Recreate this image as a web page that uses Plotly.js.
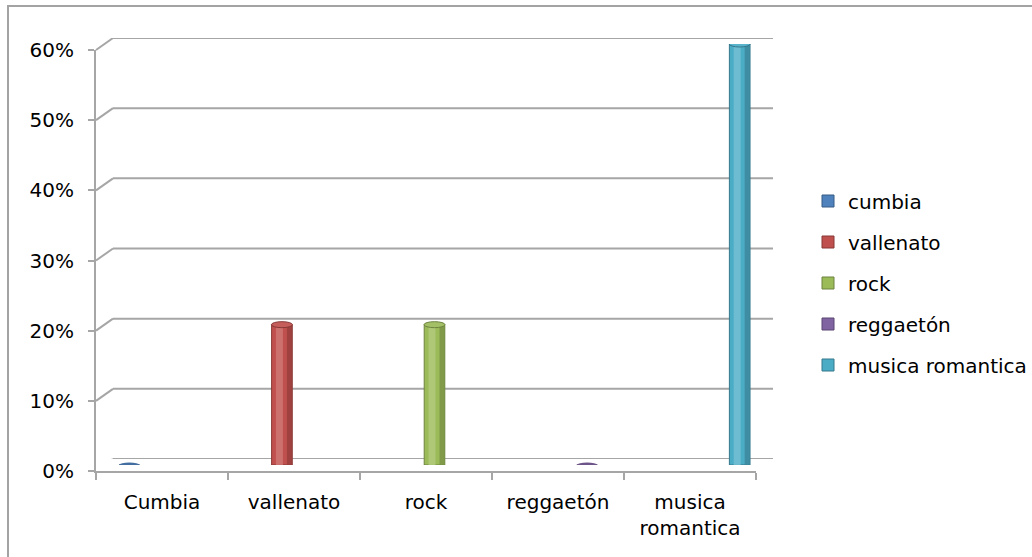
<!DOCTYPE html>
<html><head><meta charset="utf-8">
<script src="https://cdn.plot.ly/plotly-3.0.1.min.js"></script>
<style>
html,body{margin:0;padding:0;background:#fff;overflow:hidden}
#chart{width:1032px;height:557px;position:absolute;left:0;top:0}
#frame{position:absolute;left:7px;top:5px;width:1200px;height:700px;border-left:2px solid #a3a3a3;border-top:2px solid #a3a3a3;pointer-events:none}
</style></head><body>
<div id="chart"></div><div id="frame"></div>
<script>
// ---- data ----
const categories = ["Cumbia", "vallenato", "rock", "reggaetón", "musica<br>romantica"];
const seriesNames = ["cumbia", "vallenato", "rock", "reggaetón", "musica romantica"];
const values = [0, 0.20, 0.20, 0, 0.60];
const yTickVals = [0, 0.1, 0.2, 0.3, 0.4, 0.5, 0.6];

// ---- styles ----
const colors = ["#4f81bd", "#c0504d", "#9bbb59", "#8064a2", "#4bacc6"];
const FONT = "DejaVu Sans";
const GRID = "#a6a6a6";

function mix(hex, target, t) {
  const n = parseInt(hex.slice(1), 16);
  const r = (n >> 16) & 255, g = (n >> 8) & 255, b = n & 255;
  const f = c => Math.round(c + (target - c) * t);
  return "rgb(" + f(r) + "," + f(g) + "," + f(b) + ")";
}

// geometry (pixels)
const L = 96, R = 259, T = 38, B = 86;
const PW = 1032 - L - R, PH = 557 - T - B;
const DX = 17, DY = 12;
const BARGAP = 0.22;
const NS = seriesNames.length;

const traces = [];
// back wall subplot
traces.push({type: "scatter", x: categories, y: categories.map(() => 0), xaxis: "x", yaxis: "y",
  mode: "markers", marker: {opacity: 0}, showlegend: false, hoverinfo: "skip"});
// front axes subplot
traces.push({type: "scatter", x: categories, y: categories.map(() => 0), xaxis: "x2", yaxis: "y2",
  mode: "markers", marker: {opacity: 0}, showlegend: false, hoverinfo: "skip"});
// bars (mid depth)
seriesNames.forEach((name, s) => {
  traces.push({
    type: "bar", name: name, legendgroup: "g" + s,
    x: categories,
    y: categories.map((c, i) => i === s ? values[s] : null),
    xaxis: "x3", yaxis: "y3",
    marker: {color: colors[s], line: {color: mix(colors[s], 0, 0.3), width: 1}},
    hovertemplate: name + ": %{y:.0%}<extra></extra>"
  });
});

const shapes = [];
// back wall gridlines + side wall connectors
yTickVals.forEach(v => {
  shapes.push({type: "line", layer: "below", xref: "paper", yref: "y", x0: DX / PW, x1: 1, y0: v, y1: v,
    line: {color: GRID, width: 2}});
  shapes.push({type: "line", layer: "below", xref: "paper", yref: "y", x0: 0, x1: DX / PW,
    ysizemode: "pixel", yanchor: v, y0: -DY, y1: 0, line: {color: GRID, width: 2}});
});
// floor right edge
shapes.push({type: "line", layer: "below", xref: "paper", yref: "y", x0: (PW - DX) / PW, x1: 1,
  ysizemode: "pixel", yanchor: 0, y0: -DY, y1: 0, line: {color: GRID, width: 2}});

// cylinder shading
const bw = (1 - BARGAP) / NS;
seriesNames.forEach((name, s) => {
  const xc = s + (s - (NS - 1) / 2) * bw;
  const v = values[s];
  const base = {xref: "x3", yref: "y3", xsizemode: "pixel", xanchor: xc};
  if (v > 0) {
    shapes.push(Object.assign({}, base, {type: "circle", layer: "below", ysizemode: "pixel", yanchor: 0,
      x0: -10.5, x1: 10.5, y0: -3, y1: 3, fillcolor: mix(colors[s], 0, 0.1), line: {width: 0}}));
    shapes.push(Object.assign({}, base, {type: "rect", x0: -6, x1: 1, y0: 0, y1: v,
      fillcolor: mix(colors[s], 255, 0.22), line: {width: 0}, opacity: 0.85}));
    shapes.push(Object.assign({}, base, {type: "rect", x0: 5, x1: 10.5, y0: 0, y1: v,
      fillcolor: mix(colors[s], 0, 0.22), line: {width: 0}, opacity: 0.8}));
    shapes.push(Object.assign({}, base, {type: "circle", ysizemode: "pixel", yanchor: v,
      x0: -10.5, x1: 10.5, y0: -3, y1: 3, fillcolor: mix(colors[s], 255, 0.08),
      line: {color: mix(colors[s], 0, 0.3), width: 1}}));
  } else {
    shapes.push(Object.assign({}, base, {type: "circle", ysizemode: "pixel", yanchor: 0,
      x0: -10, x1: 10, y0: -2.5, y1: 2.5, fillcolor: mix(colors[s], 0, 0.15), line: {width: 0}}));
  }
});

const hidden = {showgrid: false, zeroline: false, showline: false, showticklabels: false, ticks: "", fixedrange: true};
const SH = 0; // bar layer shift (px)

const layout = {
  width: 1032, height: 557,
  margin: {l: L, r: R, t: T, b: B, pad: 0, autoexpand: false},
  paper_bgcolor: "#ffffff", plot_bgcolor: "rgba(0,0,0,0)",
  font: {family: FONT, size: 20, color: "#000000"},
  barmode: "group", bargap: BARGAP, bargroupgap: 0,
  showlegend: true,
  legend: {x: (808 - L) / PW, xanchor: "left", y: (471 - 283) / PH, yanchor: "middle",
    font: {family: FONT, size: 20, color: "#000"}, tracegroupgap: 12, bgcolor: "rgba(0,0,0,0)", itemclick: false},
  // back wall
  xaxis: Object.assign({}, hidden, {domain: [DX / PW, 1], anchor: "y", type: "category", range: [-0.5, 4.5]}),
  yaxis: Object.assign({}, hidden, {domain: [DY / PH, 1], anchor: "x", range: [0, 0.6]}),
  // front axes
  xaxis2: {domain: [0, (PW - DX) / PW], anchor: "y2", type: "category", range: [-0.5, 4.5],
    showgrid: false, zeroline: false, showline: true, linecolor: GRID, linewidth: 2,
    ticks: "outside", tickson: "boundaries", ticklen: 7, tickcolor: GRID, tickwidth: 2,
    ticklabelstandoff: 12,
    tickfont: {family: FONT, size: 20, color: "#000"}, fixedrange: true},
  yaxis2: {domain: [0, (PH - DY) / PH], anchor: "x2", range: [0, 0.6],
    tickvals: yTickVals, tickformat: ".0%", showgrid: false, zeroline: false,
    showline: true, linecolor: GRID, linewidth: 2, ticks: "outside", ticklen: 6, tickcolor: GRID, tickwidth: 2,
    ticklabelstandoff: 10,
    tickfont: {family: FONT, size: 20, color: "#000"}, fixedrange: true},
  // bars (mid depth)
  xaxis3: Object.assign({}, hidden, {domain: [(DX / 2 + SH) / PW, (PW - DX / 2 + SH) / PW], anchor: "y3", type: "category", range: [-0.5, 4.5]}),
  yaxis3: Object.assign({}, hidden, {domain: [DY / 2 / PH, (PH - DY / 2) / PH], anchor: "x3", range: [0, 0.6]}),
  shapes: shapes
};

Plotly.newPlot("chart", traces, layout, {displayModeBar: false});
</script>
</body></html>
